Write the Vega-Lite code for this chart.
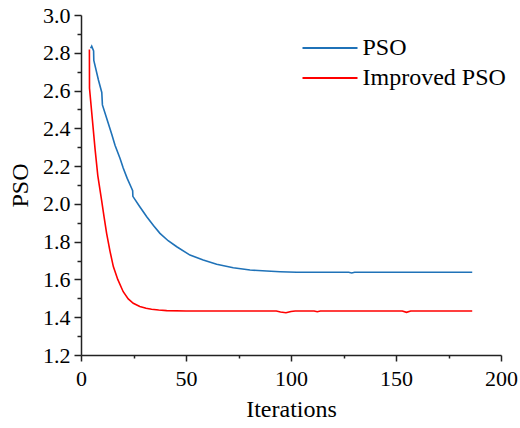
{
  "$schema": "https://vega.github.io/schema/vega-lite/v6.json",
  "width": 420,
  "height": 340,
  "autosize": "none",
  "padding": {"left": 81, "top": 15, "right": 19, "bottom": 73},
  "background": "white",
  "config": {
    "view": {"stroke": null},
    "font": "Liberation Serif"
  },
  "data": {
    "values": [
      {"series": "PSO", "idx": 1, "iter": 4.6, "value": 2.824},
      {"series": "PSO", "idx": 2, "iter": 5.1, "value": 2.835},
      {"series": "PSO", "idx": 3, "iter": 6.0, "value": 2.81},
      {"series": "PSO", "idx": 4, "iter": 6.1, "value": 2.76},
      {"series": "PSO", "idx": 5, "iter": 8.3, "value": 2.656},
      {"series": "PSO", "idx": 6, "iter": 9.9, "value": 2.59},
      {"series": "PSO", "idx": 7, "iter": 10.2, "value": 2.524},
      {"series": "PSO", "idx": 8, "iter": 12.9, "value": 2.43},
      {"series": "PSO", "idx": 9, "iter": 14.6, "value": 2.37},
      {"series": "PSO", "idx": 10, "iter": 16.2, "value": 2.31},
      {"series": "PSO", "idx": 11, "iter": 18.6, "value": 2.24},
      {"series": "PSO", "idx": 12, "iter": 20.1, "value": 2.19},
      {"series": "PSO", "idx": 13, "iter": 22.0, "value": 2.135},
      {"series": "PSO", "idx": 14, "iter": 24.1, "value": 2.083},
      {"series": "PSO", "idx": 15, "iter": 24.6, "value": 2.07},
      {"series": "PSO", "idx": 16, "iter": 24.7, "value": 2.04},
      {"series": "PSO", "idx": 17, "iter": 28.0, "value": 1.985},
      {"series": "PSO", "idx": 18, "iter": 31.3, "value": 1.932},
      {"series": "PSO", "idx": 19, "iter": 34.5, "value": 1.886},
      {"series": "PSO", "idx": 20, "iter": 37.6, "value": 1.844},
      {"series": "PSO", "idx": 21, "iter": 41.5, "value": 1.805},
      {"series": "PSO", "idx": 22, "iter": 45.6, "value": 1.773},
      {"series": "PSO", "idx": 23, "iter": 51.9, "value": 1.729},
      {"series": "PSO", "idx": 24, "iter": 58.2, "value": 1.703},
      {"series": "PSO", "idx": 25, "iter": 64.6, "value": 1.68},
      {"series": "PSO", "idx": 26, "iter": 72.5, "value": 1.662},
      {"series": "PSO", "idx": 27, "iter": 80.5, "value": 1.65},
      {"series": "PSO", "idx": 28, "iter": 88.4, "value": 1.645},
      {"series": "PSO", "idx": 29, "iter": 94.8, "value": 1.641},
      {"series": "PSO", "idx": 30, "iter": 102.7, "value": 1.638},
      {"series": "PSO", "idx": 31, "iter": 127.5, "value": 1.638},
      {"series": "PSO", "idx": 32, "iter": 128.9, "value": 1.634},
      {"series": "PSO", "idx": 33, "iter": 130.3, "value": 1.638},
      {"series": "PSO", "idx": 34, "iter": 186.3, "value": 1.638},
      {"series": "Improved PSO", "idx": 1, "iter": 4.0, "value": 2.818},
      {"series": "Improved PSO", "idx": 2, "iter": 4.05, "value": 2.612},
      {"series": "Improved PSO", "idx": 3, "iter": 6.7, "value": 2.29},
      {"series": "Improved PSO", "idx": 4, "iter": 8.0, "value": 2.15},
      {"series": "Improved PSO", "idx": 5, "iter": 9.8, "value": 2.02},
      {"series": "Improved PSO", "idx": 6, "iter": 11.0, "value": 1.93},
      {"series": "Improved PSO", "idx": 7, "iter": 12.2, "value": 1.844},
      {"series": "Improved PSO", "idx": 8, "iter": 13.8, "value": 1.75},
      {"series": "Improved PSO", "idx": 9, "iter": 15.4, "value": 1.668},
      {"series": "Improved PSO", "idx": 10, "iter": 17.5, "value": 1.6},
      {"series": "Improved PSO", "idx": 11, "iter": 20.1, "value": 1.535},
      {"series": "Improved PSO", "idx": 12, "iter": 22.5, "value": 1.497},
      {"series": "Improved PSO", "idx": 13, "iter": 24.9, "value": 1.474},
      {"series": "Improved PSO", "idx": 14, "iter": 28.0, "value": 1.457},
      {"series": "Improved PSO", "idx": 15, "iter": 31.0, "value": 1.447},
      {"series": "Improved PSO", "idx": 16, "iter": 33.6, "value": 1.442},
      {"series": "Improved PSO", "idx": 17, "iter": 37.0, "value": 1.438},
      {"series": "Improved PSO", "idx": 18, "iter": 40.8, "value": 1.435},
      {"series": "Improved PSO", "idx": 19, "iter": 50.0, "value": 1.433},
      {"series": "Improved PSO", "idx": 20, "iter": 93.0, "value": 1.433},
      {"series": "Improved PSO", "idx": 21, "iter": 95.0, "value": 1.428},
      {"series": "Improved PSO", "idx": 22, "iter": 97.6, "value": 1.424},
      {"series": "Improved PSO", "idx": 23, "iter": 100.0, "value": 1.43},
      {"series": "Improved PSO", "idx": 24, "iter": 102.0, "value": 1.433},
      {"series": "Improved PSO", "idx": 25, "iter": 111.0, "value": 1.433},
      {"series": "Improved PSO", "idx": 26, "iter": 112.5, "value": 1.429},
      {"series": "Improved PSO", "idx": 27, "iter": 114.0, "value": 1.433},
      {"series": "Improved PSO", "idx": 28, "iter": 153.0, "value": 1.433},
      {"series": "Improved PSO", "idx": 29, "iter": 155.0, "value": 1.426},
      {"series": "Improved PSO", "idx": 30, "iter": 157.0, "value": 1.433},
      {"series": "Improved PSO", "idx": 31, "iter": 186.3, "value": 1.433}
    ]
  },
  "mark": {"type": "line", "strokeWidth": 1.6, "clip": true},
  "encoding": {
    "x": {
      "field": "iter",
      "type": "quantitative",
      "scale": {"domain": [0, 200], "nice": false},
      "axis": {
        "title": "Iterations",
        "values": [0, 25, 50, 75, 100, 125, 150, 175, 200],
        "labelExpr": "datum.value % 50 == 0 ? datum.label : ''",
        "tickSize": {"condition": {"test": "datum.value % 50 == 0", "value": 6}, "value": 3},
        "grid": false,
        "domainColor": "#222",
        "domainWidth": 1.5,
        "tickColor": "#222",
        "tickWidth": 1.5,
        "labelFont": "Liberation Serif",
        "labelFontSize": 22,
        "labelColor": "#000",
        "labelPadding": 7,
        "labelOverlap": false,
        "labelFlush": false,
        "titleFont": "Liberation Serif",
        "titleFontSize": 24,
        "titleFontWeight": "normal",
        "titleColor": "#000",
        "titlePadding": 8
      }
    },
    "y": {
      "field": "value",
      "type": "quantitative",
      "scale": {"domain": [1.2, 3.0], "nice": false, "zero": false},
      "axis": {
        "title": "PSO",
        "values": [1.2, 1.3, 1.4, 1.5, 1.6, 1.7, 1.8, 1.9, 2.0, 2.1, 2.2, 2.3, 2.4, 2.5, 2.6, 2.7, 2.8, 2.9, 3.0],
        "format": ".1f",
        "labelExpr": "round(datum.value * 10) % 2 == 0 ? datum.label : ''",
        "tickSize": {"condition": {"test": "round(datum.value * 10) % 2 == 0", "value": 7}, "value": 4},
        "grid": false,
        "domainColor": "#222",
        "domainWidth": 1.5,
        "tickColor": "#222",
        "tickWidth": 1.5,
        "labelFont": "Liberation Serif",
        "labelFontSize": 22,
        "labelColor": "#000",
        "labelPadding": 4,
        "labelOverlap": false,
        "labelFlush": false,
        "titleFont": "Liberation Serif",
        "titleFontSize": 24,
        "titleFontWeight": "normal",
        "titleColor": "#000",
        "titlePadding": 10
      }
    },
    "color": {
      "field": "series",
      "type": "nominal",
      "scale": {"domain": ["PSO", "Improved PSO"], "range": ["#1f72b8", "#ff0000"]},
      "legend": {
        "title": null,
        "orient": "none",
        "legendX": 209.5,
        "legendY": 21,
        "padding": 0,
        "symbolType": "M0,0H10",
        "symbolSize": 121,
        "symbolStrokeWidth": 2,
        "labelFont": "Liberation Serif",
        "labelFontSize": 24,
        "labelColor": "#000",
        "labelOffset": 48,
        "rowPadding": 6
      }
    },
    "order": {"field": "idx", "type": "quantitative"}
  }
}
